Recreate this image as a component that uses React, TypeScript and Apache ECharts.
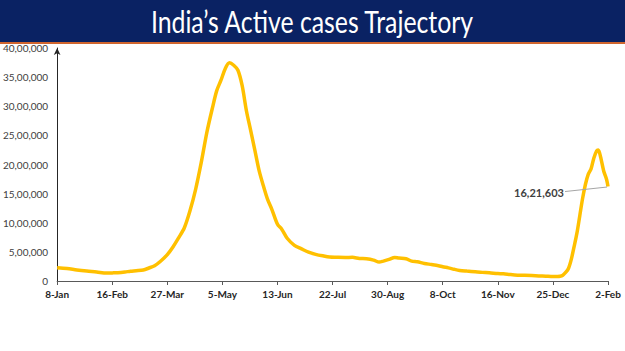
import React, { useEffect, useRef } from "react";
import * as echarts from "echarts";

const START_DATE = "2021-01-08";
const TICK_STEP_DAYS = 39;
const tickLabels = ["8-Jan", "16-Feb", "27-Mar", "5-May", "13-Jun", "22-Jul", "30-Aug", "8-Oct", "16-Nov", "25-Dec", "2-Feb"];

const dates = [
  "2021-01-08", "2021-01-15", "2021-01-22", "2021-01-29", "2021-02-05", "2021-02-12", "2021-02-16", "2021-02-20",
  "2021-02-25", "2021-03-01", "2021-03-05", "2021-03-10", "2021-03-14", "2021-03-18", "2021-03-22", "2021-03-27",
  "2021-03-31", "2021-04-04", "2021-04-08", "2021-04-12", "2021-04-16", "2021-04-20", "2021-04-24", "2021-04-28",
  "2021-05-01", "2021-05-04", "2021-05-07", "2021-05-10", "2021-05-13", "2021-05-16", "2021-05-19", "2021-05-22",
  "2021-05-25", "2021-05-28", "2021-05-31", "2021-06-03", "2021-06-06", "2021-06-09", "2021-06-13", "2021-06-16",
  "2021-06-20", "2021-06-25", "2021-06-30", "2021-07-05", "2021-07-10", "2021-07-15", "2021-07-20", "2021-07-25",
  "2021-07-31", "2021-08-05", "2021-08-10", "2021-08-15", "2021-08-20", "2021-08-24", "2021-08-27", "2021-08-31",
  "2021-09-04", "2021-09-07", "2021-09-12", "2021-09-16", "2021-09-20", "2021-09-25", "2021-09-30", "2021-10-05",
  "2021-10-08", "2021-10-12", "2021-10-16", "2021-10-20", "2021-10-25", "2021-10-31", "2021-11-05", "2021-11-10",
  "2021-11-16", "2021-11-20", "2021-11-25", "2021-11-30", "2021-12-05", "2021-12-10", "2021-12-15", "2021-12-20",
  "2021-12-25", "2021-12-28", "2021-12-30", "2022-01-01", "2022-01-03", "2022-01-05", "2022-01-07", "2022-01-09",
  "2022-01-11", "2022-01-13", "2022-01-15", "2022-01-17", "2022-01-19", "2022-01-21", "2022-01-23", "2022-01-25",
  "2022-01-26", "2022-01-27", "2022-01-28", "2022-01-30", "2022-02-01", "2022-02-02"
];

const activeCases = [
  227000, 214000, 189000, 170000, 155000, 136000, 139000, 143000,
  155000, 168000, 176000, 189000, 223000, 262000, 334000, 453000,
  584000, 741000, 910000, 1201000, 1569000, 2031000, 2552000, 2978000,
  3268000, 3447000, 3645000, 3745000, 3704000, 3618000, 3353000, 2923000,
  2586000, 2243000, 1895000, 1635000, 1401000, 1231000, 973000, 890000,
  729000, 612000, 552000, 495000, 458000, 432000, 411000, 407000,
  404000, 406000, 387000, 381000, 359000, 325000, 342000, 370000,
  405000, 393000, 383000, 341000, 329000, 301000, 283000, 263000,
  244000, 226000, 202000, 182000, 170000, 158000, 148000, 141000,
  128000, 124000, 110000, 100000, 98000, 94000, 87000, 82000,
  77000, 78000, 82000, 99000, 146000, 215000, 371000, 590000,
  821000, 1117000, 1417000, 1657000, 1831000, 1924000, 2113000, 2236000,
  2249000, 2202000, 2105000, 1884000, 1743000, 1621603
];

const TITLE = "India\u2019s Active cases Trajectory";

function indianFormat(n: number): string {
  const s = String(Math.round(n));
  if (s.length <= 3) return s;
  const last3 = s.slice(-3);
  const rest = s.slice(0, -3).replace(/\B(?=(\d{2})+(?!\d))/g, ",");
  return rest + "," + last3;
}

function dayOffset(d: string): number {
  return Math.round((Date.parse(d) - Date.parse(START_DATE)) / 86400000);
}

export default function App() {
  const ref = useRef<HTMLDivElement>(null);
  useEffect(() => {
    if (!ref.current) return;
    const chart = echarts.init(ref.current, null, { renderer: "svg" });
    const seriesData = dates.map((d, i) => [dayOffset(d), activeCases[i]]);

    // measure title to fit target width
    let titleScale = 1;
    try {
      const ctx = document.createElement("canvas").getContext("2d");
      if (ctx) {
        ctx.font = "30px Lato";
        const w = ctx.measureText(TITLE).width;
        if (w > 0) titleScale = 324 / w;
      }
    } catch (e) {}

    chart.setOption({
      animation: false,
      backgroundColor: "#ffffff",
      grid: { left: 55, right: 17, top: 48, bottom: 70, containLabel: false },
      xAxis: {
        type: "value",
        min: 0,
        max: TICK_STEP_DAYS * (tickLabels.length - 1),
        interval: TICK_STEP_DAYS,
        splitLine: { show: false },
        axisLine: { show: true, lineStyle: { color: "#595959", width: 1 } },
        axisTick: { show: true, length: 4, lineStyle: { color: "#595959" } },
        axisLabel: {
          formatter: (v: number) => tickLabels[Math.round(v / TICK_STEP_DAYS)] ?? "",
          color: "#262626",
          fontFamily: "Lato",
          fontWeight: "bold",
          fontSize: 10,
          margin: 8,
        },
      },
      yAxis: {
        type: "value",
        min: 0,
        max: 4000000,
        interval: 500000,
        splitLine: { show: false },
        axisLine: {
          show: true,
          symbol: ["none", "arrow"],
          symbolSize: [5, 7],
          lineStyle: { color: "#262626", width: 1 },
        },
        axisTick: { show: false },
        axisLabel: {
          formatter: (v: number) => indianFormat(v),
          color: "#404040",
          fontFamily: "Lato",
          fontSize: 10,
          margin: 9,
        },
      },
      series: [
        {
          type: "line",
          data: seriesData,
          showSymbol: false,
          smooth: 0.3,
          lineStyle: { color: "#FFC000", width: 3.5 },
          itemStyle: { color: "#FFC000" },
        },
      ],
    });

    const last = seriesData[seriesData.length - 1];
    const p = chart.convertToPixel({ gridIndex: 0 }, last) as number[];
    const labelX = p[0] - 69;
    const labelY = p[1] + 6;

    chart.setOption({
      graphic: [
        { type: "rect", shape: { x: 0, y: 0, width: 625, height: 42 }, style: { fill: "#0a2263" }, z: 10 },
        { type: "rect", shape: { x: 0, y: 42, width: 625, height: 2 }, style: { fill: "#d0652e" }, z: 10 },
        {
          type: "text",
          x: 312,
          y: 22,
          scaleX: titleScale,
          z: 11,
          style: {
            text: TITLE,
            fill: "#ffffff",
            font: "30px Lato",
            align: "center",
            verticalAlign: "middle",
          },
        },
        {
          type: "line",
          shape: { x1: labelX + 26, y1: labelY - 1, x2: p[0] - 1, y2: p[1] + 0.5 },
          style: { stroke: "#a6a6a6", lineWidth: 1 },
          z: 5,
        },
        {
          type: "text",
          x: labelX,
          y: labelY,
          z: 6,
          style: {
            text: indianFormat(last[1]),
            fill: "#404040",
            font: "bold 11px Lato",
            align: "center",
            verticalAlign: "middle",
          },
        },
      ],
    });

    return () => chart.dispose();
  }, []);

  return (
    <div
      ref={ref}
      style={{ position: "fixed", left: 0, top: 0, width: 625, height: 351, background: "#fff" }}
    />
  );
}
